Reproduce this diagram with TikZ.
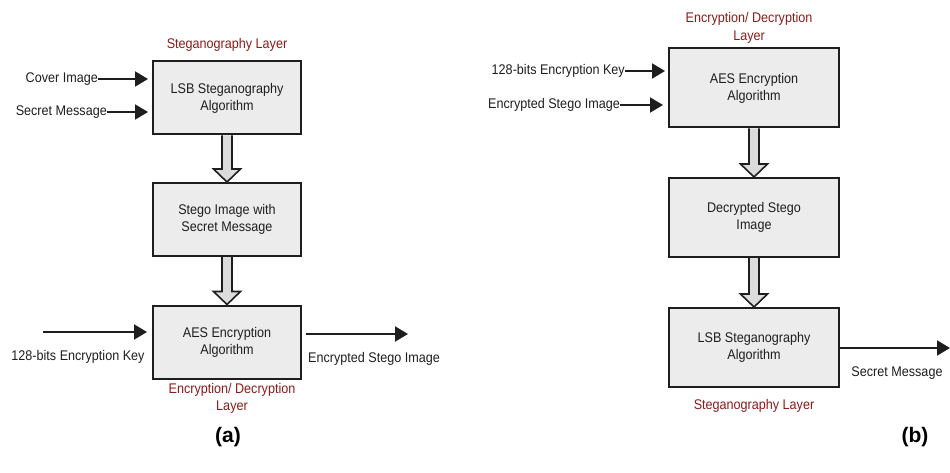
\documentclass[tikz,border=0pt]{standalone}
\usepackage{fontspec}
\setmainfont{Liberation Sans}
\newfontfamily\narrowsans[FakeStretch=0.9]{Liberation Sans}
\usetikzlibrary{arrows.meta,calc}
\definecolor{ink}{RGB}{30,30,30}
\definecolor{layerred}{RGB}{140,26,26}
\definecolor{boxfill}{RGB}{236,236,236}
\definecolor{arrfill}{RGB}{220,220,220}
\tikzset{
  stepbox/.style={draw=ink, line width=2pt, fill=boxfill, align=center,
    text=ink, inner sep=0pt, font=\narrowsans\fontsize{14}{17}\selectfont},
  leftbox/.style={stepbox, minimum width=148pt, minimum height=73pt},
  rightbox/.style={stepbox, minimum width=170pt, minimum height=79pt},
  lbl/.style={text=ink, inner sep=0pt, font=\narrowsans\fontsize{14}{17}\selectfont},
  layer/.style={text=layerred, align=center, inner sep=0pt, font=\narrowsans\fontsize{14}{17.5}\selectfont},
  flow/.style={draw=ink, line width=2pt, -{Triangle[length=13pt,width=15pt]}},
  hollowarr/.style={draw=ink, line width=1.6pt, fill=arrfill, line join=miter},
  caption/.style={text=black, inner sep=0pt, font=\fontsize{21}{24}\selectfont\bfseries}
}
% wide hollow arrow running from the bottom of one box to the top of the next
\newcommand\hollowarrow[2]{%
  \filldraw[hollowarr] ($(#1.south)+(-5,0)$) -- ($(#2.north)+(-5,-13)$)
    -- ($(#2.north)+(-13.5,-13)$) -- (#2.north) -- ($(#2.north)+(13.5,-13)$)
    -- ($(#2.north)+(5,-13)$) -- ($(#1.south)+(5,0)$);}
\begin{document}
\begin{tikzpicture}[x=1pt,y=-1pt]
\useasboundingbox (0,0) rectangle (950,473);

% ---------- (a) embedding side ----------
\node[layer] (alayer1) at (227,45) {Steganography Layer};
\node[leftbox] (lsb) at (227,98) {LSB Steganography\\Algorithm};
\node[leftbox] (stego) at (227,219.5) {Stego Image with\\Secret Message};
\node[leftbox] (aes) at (227,342) {AES Encryption\\Algorithm};
\node[layer] (alayer2) at (232,398.5) {Encryption/ Decryption\\Layer};

\node[lbl, anchor=east] (cover) at (98,79) {Cover Image};
\node[lbl, anchor=east] (secret) at (107,112) {Secret Message};
\draw[flow, shorten >=4pt] (cover.east) -- (cover.east -| lsb.west);
\draw[flow, shorten >=4pt] (secret.east) -- (secret.east -| lsb.west);

\coordinate (keystart) at (43,332);
\node[lbl] (keylbl) at (78,357) {128-bits Encryption Key};
\draw[flow, shorten >=5pt] (keystart) -- (keystart -| aes.west);

\coordinate (encend) at (408,334);
\node[lbl] (enclbl) at (374,359) {Encrypted Stego Image};
\draw[flow, shorten <=4pt] (encend -| aes.east) -- (encend);

\hollowarrow{lsb}{stego}
\hollowarrow{stego}{aes}

\node[caption] (capa) at (228,437) {(a)};

% ---------- (b) extraction side ----------
\node[layer] (blayer1) at (749,28) {Encryption/ Decryption\\Layer};
\node[rightbox] (baes) at (754,88) {AES Encryption\\Algorithm};
\node[rightbox] (bdec) at (754,217.5) {Decrypted Stego\\Image};
\node[rightbox] (blsb) at (754,347.5) {LSB Steganography\\Algorithm};
\node[layer] (blayer2) at (754,406) {Steganography Layer};

\node[lbl, anchor=east] (bkey) at (625,71) {128-bits Encryption Key};
\node[lbl, anchor=east] (benc) at (620,105) {Encrypted Stego Image};
\draw[flow, shorten >=3pt] (bkey.east) -- (bkey.east -| baes.west);
\draw[flow, shorten >=5pt] (benc.east) -- (benc.east -| baes.west);

\coordinate (msgend) at (950,348);
\node[lbl] (msglbl) at (897,373) {Secret Message};
\draw[flow] (msgend -| blsb.east) -- (msgend);

\hollowarrow{baes}{bdec}
\hollowarrow{bdec}{blsb}

\node[caption] (capb) at (915,437) {(b)};
\end{tikzpicture}
\end{document}
